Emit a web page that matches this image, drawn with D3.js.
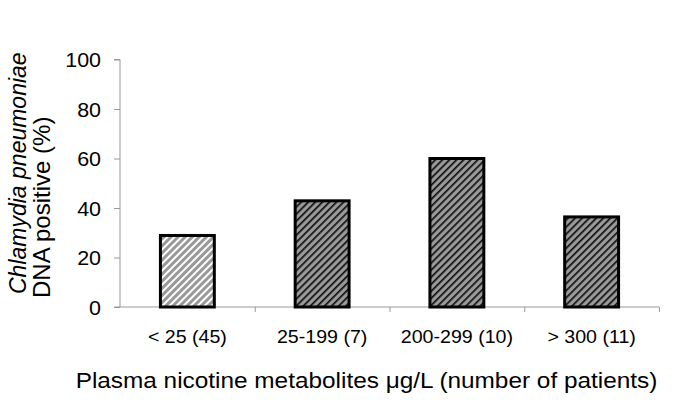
<!DOCTYPE html>
<html><head><meta charset="utf-8">
<script src="https://cdn.jsdelivr.net/npm/d3@7"></script>
<style>body{margin:0;background:#fff}svg{display:block;font-family:"Liberation Sans",Arial,sans-serif}</style>
</head><body><svg id="c" width="685" height="405"></svg>
<script>
const categories = ["< 25 (45)", "25-199 (7)", "200-299 (10)", "> 300 (11)"];
const values = [28.9, 42.9, 60, 36.4];
const fills = ["light", "dark", "dark", "dark"];
const yTicks = [0, 20, 40, 60, 80, 100];

const svg = d3.select("#c");
const L = 120, R = 659, T = 59.5, B = 307;
const FONT = "Liberation Sans, Arial, sans-serif";

function stretch(sel, k) {
  sel.each(function () {
    const w = this.getComputedTextLength();
    d3.select(this).attr("textLength", w * k).attr("lengthAdjust", "spacingAndGlyphs");
  });
}

const defs = svg.append("defs");
function pat(id, bg, fg, sw) {
  const p = defs.append("pattern").attr("id", id).attr("patternUnits", "userSpaceOnUse")
    .attr("width", 5).attr("height", 5).attr("patternTransform", "rotate(-45)");
  p.append("rect").attr("width", 5).attr("height", 5).attr("fill", bg);
  p.append("rect").attr("width", 5).attr("height", sw).attr("fill", fg);
}
pat("light", "#999999", "#ffffff", 2);
pat("dark", "#9a9a9a", "#111111", 1.7);

const x = d3.scaleBand().domain(categories).range([L, R]).paddingInner(0.6).paddingOuter(0.3);
const xb = d3.scaleLinear().domain([0, categories.length]).range([L, R]);
const y = d3.scaleLinear().domain([0, 100]).range([B, T]);

// y axis
const ya = svg.append("g").attr("transform", `translate(${L},0)`)
  .call(d3.axisLeft(y).tickValues(yTicks).tickSize(6).tickPadding(13));
ya.select(".domain").attr("stroke", "#999").attr("d", `M-6,${T}H0V${B}H-6`);
ya.selectAll(".tick line").attr("stroke", "#999");
ya.selectAll("text").attr("font-size", 19.5).attr("fill", "#000").attr("font-family", FONT)
  .attr("dy", "0.36em").call(stretch, 1.1);

// x boundary ticks
const xt = svg.append("g").attr("transform", `translate(0,${B})`)
  .call(d3.axisBottom(xb).tickValues(d3.range(1, categories.length + 1)).tickSize(5).tickFormat(""));
xt.select(".domain").attr("stroke", "#999").attr("d", `M${L},0H${R}`);
xt.selectAll(".tick line").attr("stroke", "#999");

// category labels
const xa = svg.append("g").attr("transform", `translate(0,${B})`)
  .call(d3.axisBottom(x).tickSize(0).tickPadding(24));
xa.select(".domain").remove();
xa.selectAll("text").attr("font-size", 17.5).attr("fill", "#000").attr("font-family", FONT)
  .call(stretch, 1.12);

// bars
svg.append("g").selectAll("rect").data(values).join("rect")
  .attr("x", (d, i) => x(categories[i]))
  .attr("y", d => y(d))
  .attr("width", x.bandwidth())
  .attr("height", d => y(0) - y(d))
  .attr("fill", (d, i) => `url(#${fills[i]})`)
  .attr("stroke", "#000").attr("stroke-width", 3);

// titles
svg.append("text").attr("x", 366.5).attr("y", 388).attr("text-anchor", "middle")
  .attr("font-size", 22).text("Plasma nicotine metabolites \u03bcg/L (number of patients)")
  .call(stretch, 1.107);

const yt = svg.append("g").attr("transform", "rotate(-90)");
yt.append("text").attr("x", -294).attr("y", 26).attr("font-size", 23).attr("font-style", "italic")
  .text("Chlamydia pneumoniae");
yt.append("text").attr("x", -298).attr("y", 50).attr("font-size", 24).text("DNA positive (%)");
</script></body></html>
